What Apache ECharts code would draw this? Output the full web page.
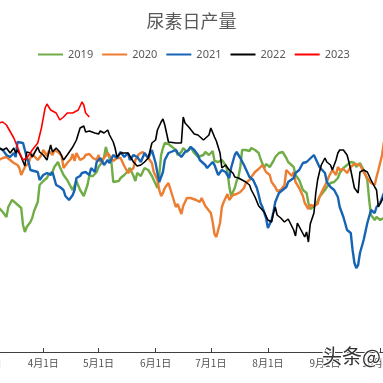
<!DOCTYPE html>
<html>
<head>
<meta charset="utf-8">
<script src="https://cdn.jsdelivr.net/npm/echarts@6/dist/echarts.min.js"></script>
<style>
html,body{margin:0;padding:0;background:#fff;}
#chart{width:383px;height:383px;}
</style>
</head>
<body>
<div id="chart"></div>
<script>
// x values: day offset from 3月1日 ; y values: daily output (万吨, estimated scale)
var monthTicks = [0, 31, 61, 92, 122, 153, 184, 214];
var monthLabels = ['3月1日', '4月1日', '5月1日', '6月1日', '7月1日', '8月1日', '9月1日', '10月1日'];
var seriesNames = ['2019', '2020', '2021', '2022', '2023'];

var days2019 = [7,9,11,12,14,16,17,19,20,21,22,24,25,26,28,29,31,33,34,36,37,39,40,42,44,46,47,49,51,53,55,56,58,60,61,63,64,65,66,68,69,72,73,75,77,78,80,81,82,84,86,88,90,91,93,94,95,96,97,99,100,103,104,106,107,109,110,111,113,115,116,118,119,121,123,124,126,128,130,131,132,133,135,136,137,138,139,141,143,144,146,148,149,151,152,153,154,156,157,159,161,163,164,167,168,170,171,172,174,175,176,177,179,180,181,184,185,187,189,191,192,194,196,198,200,201,203,205,207,208,209,211,212,214,216];
var prod2019 = [14.8,14.7,14.575,14.825,15.0,14.925,14.875,14.8,14.375,14.2,14.325,14.45,14.55,14.725,14.95,15.375,15.475,15.55,15.65,15.7,15.825,15.95,15.825,15.625,15.5,15.325,15.25,15.475,15.25,15.1,15.375,15.6,15.6,15.7,15.825,15.95,16.075,16.325,16.15,15.95,15.45,15.475,15.55,15.625,15.725,15.8,15.6,15.475,15.675,15.6,15.8,15.75,15.6,15.5,15.3,15.625,16.125,16.3,16.425,16.4,16.375,16.25,16.125,16.2,16.3,16.2,16.225,16.325,16.175,16.075,16.025,16.125,16.2,16.125,16.225,15.975,15.95,16.0,15.875,15.725,15.35,15.1,15.3,15.475,15.575,15.825,16.25,16.25,16.225,16.3,16.25,16.175,16.025,15.8,15.9,15.95,15.825,15.975,16.075,16.175,16.2,16.05,15.95,15.825,15.625,15.5,15.375,15.25,15.175,14.925,14.775,14.775,14.875,14.875,15.075,15.25,15.325,15.425,15.45,15.55,15.675,15.8,15.875,15.95,15.925,15.825,15.925,15.75,15.5,15.0,14.625,14.5,14.575,14.5,14.55];

var days2020 = [7,9,11,13,15,17,18,19,21,23,24,25,26,28,30,31,33,34,36,37,39,41,42,44,46,47,48,49,51,53,54,56,58,60,61,62,64,66,67,69,71,73,75,77,78,80,81,83,85,86,88,90,91,93,94,95,96,97,99,100,102,103,104,106,107,109,111,112,114,116,117,119,120,122,123,124,125,127,128,129,130,131,132,134,136,138,140,141,143,144,146,148,149,150,152,154,155,157,158,160,162,163,164,166,167,168,170,172,173,175,176,178,180,181,183,185,186,188,190,191,192,194,196,198,200,201,203,205,207,209,211,212,213,215,216];
var prod2020 = [16.0,16.05,16.075,16.0,15.925,15.875,15.8,15.625,15.825,15.925,16.05,16.15,16.125,16.0,16.125,16.25,16.1,16.225,16.125,16.25,16.2,16.1,15.8,15.925,16.025,16.15,15.975,16.175,16.0,16.05,16.125,16.15,16.05,16.0,16.125,15.95,16.05,16.175,16.2,15.975,16.05,16.05,15.85,15.675,15.675,15.8,16.0,16.15,16.2,16.175,16.05,15.925,15.7,15.5,15.25,15.1,15.175,15.3,15.425,15.275,14.975,14.825,14.9,14.65,14.85,15.05,15.05,15.1,15.0,14.95,15.05,14.85,14.8,14.675,14.45,14.15,14.075,14.425,14.825,14.95,14.975,15.15,15.0,15.125,15.15,15.2,15.3,15.425,15.5,15.575,15.7,15.775,15.8,15.875,15.7,15.625,15.45,15.325,15.225,15.25,15.375,15.75,15.8,15.6,15.7,15.45,15.3,15.1,14.925,14.775,14.875,14.85,14.9,15.075,15.275,15.45,15.575,15.75,15.625,15.825,15.75,15.775,15.675,15.825,15.9,15.95,15.875,15.7,15.55,15.425,15.375,15.575,15.75,16.125,16.45];

var days2021 = [7,9,11,13,15,16,17,18,20,21,22,23,24,25,28,29,31,33,35,36,38,40,42,43,45,47,48,49,51,52,54,56,57,59,60,62,64,66,67,69,71,73,75,77,78,80,82,84,86,88,90,92,93,94,96,97,99,100,103,104,106,108,110,111,113,115,116,117,119,120,123,124,126,128,130,132,133,135,136,138,140,142,143,145,147,148,149,150,152,153,155,156,157,159,161,163,164,167,168,170,172,174,175,178,180,181,184,185,187,189,191,192,194,196,198,199,200,201,202,203,205,207,209,211,212,214,216];
var prod2021 = [16.3,16.25,16.125,16.075,16.175,16.075,16.45,16.5,16.425,16.25,16.075,15.95,15.75,15.8,15.7,15.5,15.625,15.675,15.625,15.7,15.375,15.325,15.25,15.1,15.0,15.125,15.25,15.55,15.6,15.675,15.7,15.625,15.8,15.7,15.95,16.05,15.875,16.0,15.925,16.125,16.05,16.2,16.075,16.175,16.0,16.125,16.075,15.95,16.175,16.05,16.25,15.925,15.675,15.45,15.7,16.0,16.175,16.2,16.25,16.175,16.075,16.2,16.25,16.325,16.25,16.125,16.0,15.95,15.875,15.8,15.95,15.875,15.625,15.75,15.7,15.55,15.8,16.125,16.2,16.05,15.875,15.675,15.575,15.5,15.3,15.125,14.925,14.825,14.55,14.3,14.5,14.7,14.95,15.175,15.25,15.325,15.45,15.55,15.675,15.75,15.925,15.95,16.0,16.125,15.925,15.825,15.675,15.45,15.325,15.25,15.075,14.825,14.575,14.25,14.175,13.75,13.425,13.3,13.375,13.675,14.0,14.425,14.75,14.675,14.825,14.925,15.175];

var days2022 = [7,9,11,13,15,16,17,19,21,22,24,25,28,29,31,33,35,36,38,40,42,44,47,49,51,53,54,56,57,59,61,62,64,66,67,69,70,71,73,74,77,78,80,82,84,86,88,90,92,93,95,96,97,99,100,103,106,107,108,110,111,113,115,116,118,119,121,122,124,125,127,128,130,132,134,135,137,139,141,143,144,146,148,149,151,153,155,156,157,158,160,162,163,164,167,168,169,171,173,174,175,176,178,179,180,181,182,184,185,187,188,190,191,192,194,196,197,198,199,200,202,203,205,207,209,211,212,213,215,216];
var prod2022 = [16.3,16.25,16.3,16.175,16.3,16.175,16.25,16.075,15.85,16.2,16.175,16.075,16.325,16.2,16.125,16.0,16.375,16.2,16.3,16.2,16.0,16.125,16.325,16.5,16.8,16.85,16.7,16.725,16.675,16.675,16.65,16.725,16.675,16.75,16.625,16.45,16.3,16.075,16.175,16.125,16.175,16.1,15.95,15.85,15.875,15.95,16.05,16.425,16.5,16.75,16.95,17.025,16.875,16.45,16.425,16.425,16.425,17.075,16.925,16.825,16.8,16.65,16.625,16.6,16.5,16.475,16.625,16.8,16.575,16.475,16.175,15.8,15.875,15.75,15.675,15.575,15.55,15.5,15.45,15.375,15.25,15.075,14.85,14.85,14.7,14.5,14.45,14.675,14.825,14.625,14.55,14.45,14.475,14.525,14.25,14.1,14.425,14.25,14.075,14.2,13.95,14.4,14.675,15.175,15.5,15.7,15.875,16.05,15.95,15.875,15.75,16.0,16.175,16.25,16.25,16.125,15.95,15.75,15.7,15.3,15.175,15.7,15.75,15.7,15.5,15.325,15.25,14.825,15.0,15.075];

var days2023 = [7,9,11,15,17,18,20,22,24,25,28,29,30,32,33,35,36,38,40,42,44,45,47,48,50,52,53,54,55,56];
var prod2023 = [16.925,16.95,16.875,16.55,16.325,16.2,16.0,16.05,16.175,16.25,16.425,16.45,16.8,17.3,17.4,17.25,17.2,17.175,17.0,17.075,17.175,17.125,17.175,17.175,17.25,17.45,17.375,17.175,17.125,17.075];

var seriesColors = ['#70AD47', '#ED7D31', '#1764B4', '#000000', '#FF0000'];
var seriesWidths = [2.4, 2.4, 2.4, 1.6, 1.6];
var allDays = [days2019, days2020, days2021, days2022, days2023];
var allProd = [prod2019, prod2020, prod2021, prod2022, prod2023];

var chart = echarts.init(document.getElementById('chart'), null, {renderer: 'canvas'});
var series = seriesNames.map(function (name, k) {
  return {
    name: name,
    type: 'line',
    symbol: 'none',
    showSymbol: false,
    animation: false,
    color: seriesColors[k],
    lineStyle: {width: seriesWidths[k], color: seriesColors[k]},
    data: allDays[k].map(function (d, i) { return [d, allProd[k][i]]; })
  };
});

chart.setOption({
  backgroundColor: '#ffffff',
  animation: false,
  textStyle: {fontFamily: '"Noto Sans CJK SC", "Noto Sans", sans-serif'},
  title: {
    text: '尿素日产量',
    left: 'center',
    top: 7,
    textStyle: {fontSize: 18, fontWeight: 'normal', color: '#595959', fontFamily: '"Noto Sans CJK SC", sans-serif'}
  },
  legend: {
    data: seriesNames.map(function (n) { return {name: n, icon: 'rect'}; }),
    left: 33,
    top: 44,
    itemWidth: 25,
    itemHeight: 2,
    itemGap: 9,
    textStyle: {fontSize: 11, color: '#595959', fontFamily: '"Noto Sans", sans-serif'}
  },
  grid: {left: -13.8, width: 397.7, top: 72, height: 280, containLabel: false, outerBoundsMode: 'none'},
  xAxis: {
    type: 'value',
    min: 0,
    max: 216,
    axisLine: {show: true, lineStyle: {color: '#404040', width: 1}},
    axisTick: {show: true, inside: true, length: 4, customValues: monthTicks, lineStyle: {color: '#404040'}},
    axisLabel: {
      show: true,
      customValues: monthTicks,
      margin: 6,
      fontSize: 10,
      color: '#505050',
      formatter: function (v) {
        var i = monthTicks.indexOf(Math.round(v));
        return i >= 0 ? monthLabels[i] : '';
      }
    },
    splitLine: {show: false}
  },
  yAxis: {
    type: 'value',
    min: 11.2,
    max: 18.2,
    show: false,
    splitLine: {show: false}
  },
  graphic: [{
    type: 'text',
    left: 321,
    top: 345,
    z: 100,
    style: {text: '头条@', fontSize: 20, fill: '#333333', stroke: '#ffffff', lineWidth: 2,
            fontFamily: '"Noto Sans CJK SC", sans-serif'}
  }],
  series: series
});
</script>
</body>
</html>
